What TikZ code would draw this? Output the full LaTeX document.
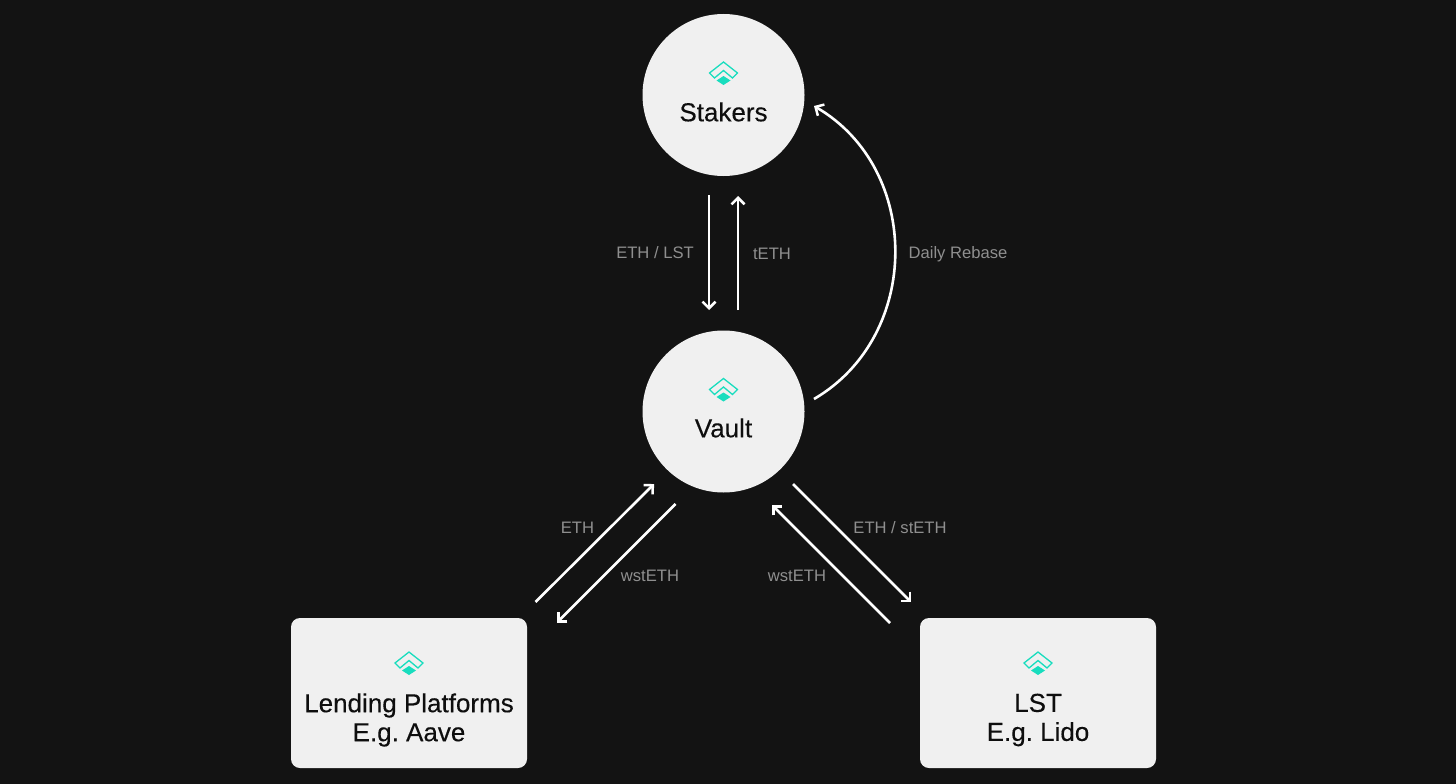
\documentclass[tikz,border=0pt]{standalone}
\usepackage{fontspec}
\setmainfont{Liberation Sans}
\newfontfamily\titlefont[FakeBold=0.25]{Liberation Sans}
\usetikzlibrary{arrows.meta}
\definecolor{bgdark}{HTML}{131313}
\definecolor{nodefill}{HTML}{F0F0F0}
\definecolor{labelgrey}{HTML}{8F8F8F}
\definecolor{teal}{HTML}{18DDBE}
\definecolor{inkdark}{HTML}{0E0E0E}
\frenchspacing
\tikzset{
  x=1pt,y=-1pt,
  circlenode/.style={circle,fill=nodefill,minimum size=162pt,inner sep=0pt},
  boxnode/.style={rectangle,rounded corners=9pt,fill=nodefill,minimum width=236pt,minimum height=150pt,inner sep=0pt},
  nodetext/.style={text=inkdark,font=\titlefont\fontsize{26}{29}\selectfont\frenchspacing,align=center,inner sep=0pt},
  edgelabel/.style={text=labelgrey,font=\fontsize{16.6}{20}\selectfont,inner sep=0pt},
  flow/.style={draw=white,line width=2.6pt,-{Straight Barb[length=6.5pt,width=13pt,line width=2.5pt]}},
  pics/logo/.style={code={
    \draw[teal,line width=1.3pt,line join=miter] (0,-11)--(14,0)--(9,5)--(0,-2.5)--(-9,5)--(-14,0)--cycle;
    \fill[teal] (0,3)--(7,7.5)--(0,12)--(-7,7.5)--cycle;
  }}
}
\begin{document}
\begin{tikzpicture}
\useasboundingbox[fill=bgdark] (0,0) rectangle (1456,784);
\node[circlenode] (stakers) at (723.5,95) {};
\node[circlenode] (vault) at (723.5,411.5) {};
\node[boxnode] (lending) at (409,693) {};
\node[boxnode] (lst) at (1038,693) {};
\pic at (723.5,73) {logo};
\pic at (723.5,389.5) {logo};
\pic at (409,663) {logo};
\pic at (1038,663) {logo};
\node[nodetext] (stakerstext) at (723.5,112) {Stakers};
\node[nodetext] (vaulttext) at (723.5,428) {Vault};
\node[nodetext] (lendingtext) at (409,720) {Lending Platforms\\E.g. Aave};
\node[nodetext] (lsttext) at (1038,720) {LST\\E.g. Lido};
\coordinate (a1) at (709,195);
\coordinate (a2) at (709,310);
\coordinate (b1) at (738,310);
\coordinate (b2) at (738,196);
\coordinate (c1) at (814,399);
\coordinate (c2) at (814,106);
\coordinate (d1) at (535.5,602);
\coordinate (d2) at (654,484);
\coordinate (e1) at (675.5,504);
\coordinate (e2) at (557,622.5);
\coordinate (f1) at (793,484);
\coordinate (f2) at (911,602);
\coordinate (g1) at (890,623);
\coordinate (g2) at (772,505);
\draw[flow] (a1) -- (a2);
\draw[flow] (b1) -- (b2);
\draw[flow] (c1) .. controls (922,336) and (922,169) .. (c2);
\draw[flow] (d1) -- (d2);
\draw[flow] (e1) -- (e2);
\draw[flow] (f1) -- (f2);
\draw[flow] (g1) -- (g2);
\node[edgelabel] (l1) at (655,253) {ETH / LST};
\node[edgelabel] (l2) at (772,253.5) {tETH};
\node[edgelabel] (l3) at (958,254.5) {Daily Rebase};
\node[edgelabel] (l4) at (577.5,527.5) {ETH};
\node[edgelabel] (l5) at (650,575.5) {wstETH};
\node[edgelabel] (l6) at (900,527.5) {ETH / stETH};
\node[edgelabel] (l7) at (797,575.5) {wstETH};
\end{tikzpicture}
\end{document}
